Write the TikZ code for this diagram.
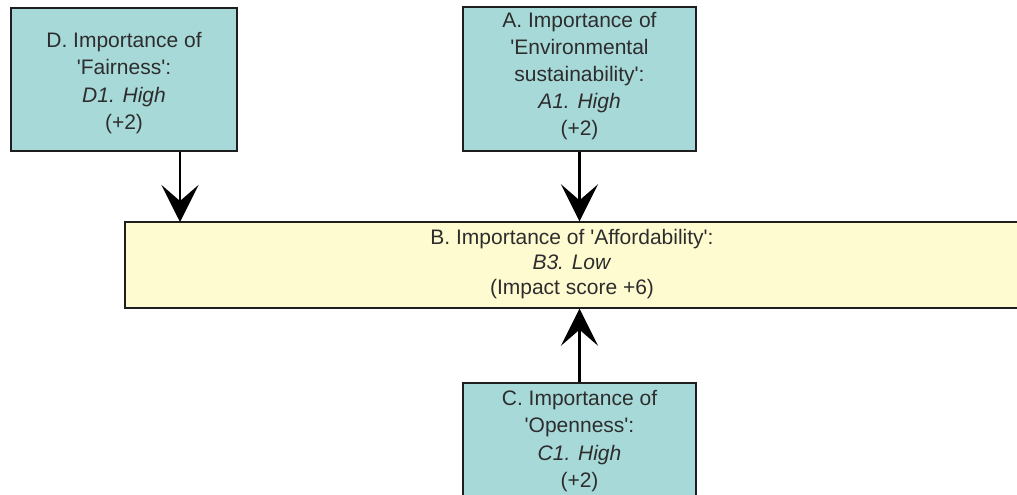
\documentclass[tikz,border=0pt]{standalone}
\usepackage{fontspec}
\setmainfont{Liberation Sans}
\usetikzlibrary{arrows.meta}
\definecolor{tealfill}{RGB}{168,217,217}
\definecolor{creamfill}{RGB}{255,251,209}
\definecolor{edge}{RGB}{30,30,30}
\definecolor{txt}{RGB}{45,45,45}
\newcommand{\sq}{\textquotesingle}
\tikzset{
  factorbox/.style={draw=edge, line width=1.4pt, fill=tealfill, rectangle, inner sep=0pt},
  resultbox/.style={draw=edge, line width=1.4pt, fill=creamfill, rectangle, inner sep=0pt},
  label/.style={text=txt, align=center, inner sep=0pt,
    font=\fontsize{21pt}{27.2pt}\selectfont},
  biglabel/.style={label, font=\fontsize{21pt}{25pt}\selectfont},
  influence/.style={draw=black, line width=2.5pt,
    -{Stealth[length=37pt, width=37pt, inset=16pt]}}
}
\begin{document}
\begin{tikzpicture}[x=1pt, y=-1pt]
\useasboundingbox (0,0) rectangle (1017,495);
\clip (0,0) rectangle (1017,495);

% factor boxes
\node[factorbox, minimum width=226pt, minimum height=143pt] (D) at (124,79.5) {};
\node[factorbox, minimum width=233pt, minimum height=144pt] (A) at (579.5,79) {};
\node[resultbox, minimum width=898pt, minimum height=86pt] (B) at (574,265) {};
\node[factorbox, minimum width=233pt, minimum height=124pt] (C) at (579.5,445) {};

% box texts
\node[label] (Dt) at (124,83) {D. Importance of\\\sq Fairness\sq:\\\textit{D1. High}\\(+2)};
\node[label] (At) at (579.5,76) {A. Importance of\\\sq Environmental\\sustainability\sq:\\\textit{A1. High}\\(+2)};
\node[biglabel] (Bt) at (572,264) {B. Importance of \sq Affordability\sq:\\\textit{B3. Low}\\(Impact score +6)};
\node[label] (Ct) at (579.5,441) {C. Importance of\\\sq Openness\sq:\\\textit{C1. High}\\(+2)};

% influences on B
\coordinate (Din) at (180,222);
\draw[influence] (Din |- D.south) -- (Din);
\draw[influence] (A.south) -- (A.south |- B.north);
\draw[influence] (C.north) -- (C.north |- B.south);
\end{tikzpicture}
\end{document}
